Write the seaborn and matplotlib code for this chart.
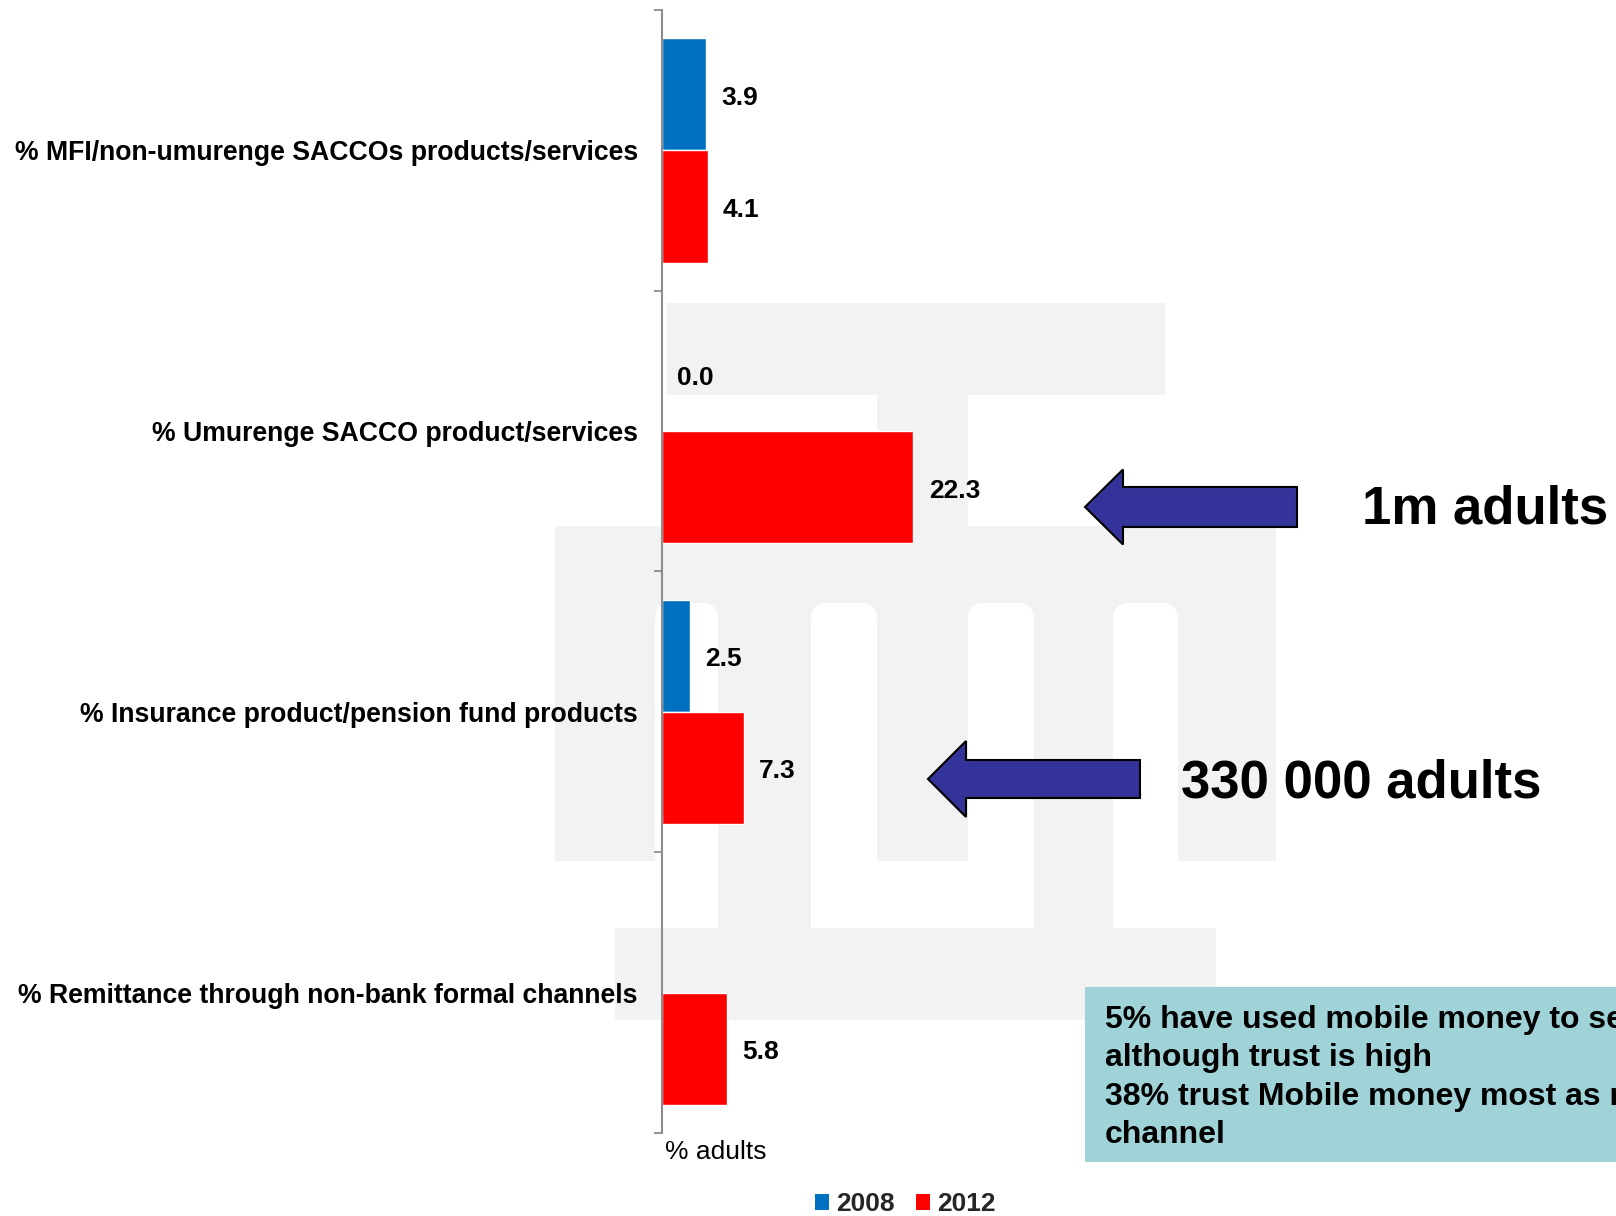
import matplotlib
matplotlib.use("Agg")
import matplotlib.pyplot as plt
import matplotlib.patches as mpatches
import matplotlib.transforms as mtransforms
import seaborn as sns
import numpy as np
import pandas as pd

# ---------------- data ----------------
categories = [
    "% MFI/non-umurenge SACCOs products/services",
    "% Umurenge SACCO product/services",
    "% Insurance product/pension fund products",
    "% Remittance through non-bank formal channels",
]
years = ["2008", "2012"]
values_2008 = [3.9, 0.0, 2.5, np.nan]
values_2012 = [4.1, 22.3, 7.3, 5.8]
x_label = "% adults"
callouts = ["1m adults", "330 000 adults"]
box_lines = [
    "5% have used mobile money to send money",
    "although trust is high",
    "38% trust Mobile money most as remittance",
    "channel",
]

palette = {"2008": "#0070C0", "2012": "#FF0000"}

df = pd.DataFrame({
    "category": categories * 2,
    "year": [years[0]] * len(categories) + [years[1]] * len(categories),
    "value": values_2008 + values_2012,
})

# ---------------- style ----------------
sns.set_theme(style="white")
plt.rcParams["font.family"] = ["Liberation Sans", "DejaVu Sans"]

W, H = 1616, 1216
fig = plt.figure(figsize=(W / 100, H / 100), dpi=100)
fig.patch.set_facecolor("white")

# pixel (y down) -> figure transform
px = mtransforms.Affine2D().scale(1 / W, -1 / H).translate(0, 1) + fig.transFigure

def fx(x):
    return x / W

def fy(y):
    return 1 - y / H

# ---------------- watermark ----------------
wm = "#f2f2f2"
rects = [
    (667, 303, 1165, 395),
    (877, 395, 968, 526),
    (555, 526, 1276, 861),
    (718, 861, 811, 928),
    (1034, 861, 1113, 928),
    (615, 928, 1216, 1020),
]
for x0, y0, x1, y1 in rects:
    fig.patches.append(mpatches.Rectangle((x0, y0), x1 - x0, y1 - y0,
                                          transform=px, facecolor=wm,
                                          edgecolor="none", zorder=-5))
slots = [(655, 718), (811, 877), (968, 1034), (1113, 1178)]
for x0, x1 in slots:
    fig.patches.append(mpatches.FancyBboxPatch(
        (x0, 603), x1 - x0, 290,
        boxstyle="round,pad=0,rounding_size=16",
        transform=px, facecolor="white", edgecolor="none", zorder=-4))

# ---------------- axes / bars ----------------
ax_left, ax_top, ax_bottom = 661.5, 10, 1133
ax = fig.add_axes([fx(ax_left), fy(ax_bottom), 1 - fx(ax_left),
                   (ax_bottom - ax_top) / H])
ax.set_facecolor("none")

sns.barplot(data=df, y="category", x="value", hue="year",
            order=categories, hue_order=years, palette=palette,
            orient="h", errorbar=None, width=0.8, saturation=1,
            legend=False, ax=ax)

ax.set_xlim(0, (W - ax_left) / 11.3)
ax.set_ylim(len(categories) - 0.5, -0.5)

for c in ax.containers:
    labels = ["" if np.isnan(v) else f"{v:.1f}" for v in c.datavalues]
    anns = ax.bar_label(c, labels=labels, padding=11, fontsize=19,
                        fontweight="bold", color="black")
    for a in anns:
        a.xyann = (11, -2.5)

for s in ["top", "right", "bottom"]:
    ax.spines[s].set_visible(False)
ax.spines["left"].set_color("#8c8c8c")
ax.spines["left"].set_linewidth(1.5)

ax.set_xticks([])
ax.set_yticks(np.arange(-0.5, len(categories), 1.0), minor=True)
ax.tick_params(axis="y", which="major", length=0, pad=17, labelsize=19.2)
ax.tick_params(axis="y", which="minor", length=6, width=1.3,
               color="#8c8c8c", left=True)
for t in ax.get_yticklabels():
    t.set_fontweight("bold")
    t.set_color("black")
ax.set_ylabel("")
ax.set_xlabel(x_label, loc="left", fontsize=19, labelpad=5, color="black")
ax.xaxis.get_label().set_x(0.004)

# ---------------- arrows ----------------
def arrow(tip_x, y, head_x, tail_x, head_h, shaft_h):
    pts = [
        (tip_x, y),
        (head_x, y - head_h / 2),
        (head_x, y - shaft_h / 2),
        (tail_x, y - shaft_h / 2),
        (tail_x, y + shaft_h / 2),
        (head_x, y + shaft_h / 2),
        (head_x, y + head_h / 2),
    ]
    fig.patches.append(mpatches.Polygon(pts, closed=True, transform=px,
                                        facecolor="#333399",
                                        edgecolor="black", linewidth=1.5,
                                        zorder=10))

arrow(1085, 507, 1123, 1297, 75, 40)
arrow(928, 779, 966, 1140, 76, 38)

fig.text(fx(1362), fy(510), callouts[0], fontsize=38, fontweight="bold",
         ha="left", va="center", color="black", zorder=11)
fig.text(fx(1181), fy(784), callouts[1], fontsize=38, fontweight="bold",
         ha="left", va="center", color="black", zorder=11)

# ---------------- text box ----------------
fig.patches.append(mpatches.Rectangle((1085, 987), W - 1085 + 5, 1162 - 987,
                                      transform=px, facecolor="#9fd3d7",
                                      edgecolor="none", zorder=8))
for line, yy in zip(box_lines, [1020, 1058, 1097, 1135]):
    fig.text(fx(1105), fy(yy), line, fontsize=23, fontweight="bold",
             ha="left", va="center", color="black", zorder=9)

# ---------------- legend ----------------
handles = [mpatches.Patch(facecolor=palette[y], edgecolor="none") for y in years]
fig.legend(handles=handles, labels=years, loc="center",
           bbox_to_anchor=(fx(905), fy(1204)), ncol=2, frameon=False,
           prop={"weight": "bold", "size": 19}, handlelength=0.55,
           handleheight=0.55, handletextpad=0.25, columnspacing=0.8)

fig.savefig("out.png", dpi=100)
